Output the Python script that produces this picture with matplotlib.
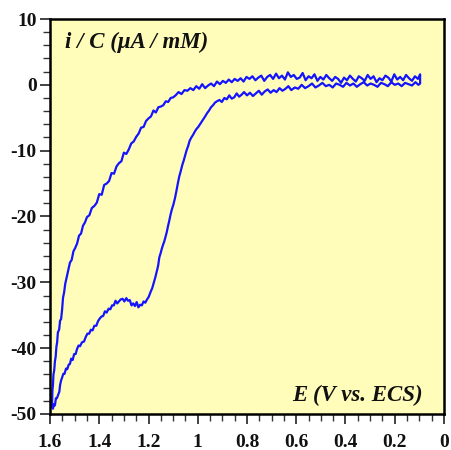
import matplotlib
matplotlib.use("Agg")
import matplotlib.pyplot as plt
from matplotlib.ticker import MultipleLocator, FuncFormatter

# Return branch, from 1.6 V toward 0.1 V (noise included)
E_lower = [1.592, 1.588, 1.584, 1.580, 1.576, 1.572, 1.566, 1.562, 1.559, 1.555,
           1.552, 1.546, 1.541, 1.535, 1.530, 1.524, 1.519, 1.514, 1.508, 1.502,
           1.496, 1.490, 1.484, 1.478, 1.470, 1.462, 1.455, 1.448, 1.441, 1.434,
           1.427, 1.420, 1.412, 1.405, 1.398, 1.391, 1.384, 1.377, 1.370, 1.362,
           1.355, 1.348, 1.341, 1.334, 1.327, 1.320, 1.313, 1.305, 1.298, 1.290,
           1.283, 1.276, 1.269, 1.262, 1.255, 1.248, 1.241, 1.234, 1.227, 1.220,
           1.213, 1.206, 1.199, 1.192, 1.185, 1.178, 1.172, 1.166, 1.161, 1.156,
           1.151, 1.146, 1.141, 1.136, 1.131, 1.126, 1.121, 1.116, 1.111, 1.105,
           1.099, 1.093, 1.087, 1.081, 1.075, 1.069, 1.063, 1.057, 1.051, 1.045,
           1.039, 1.033, 1.026, 1.019, 1.012, 1.005, 0.998, 0.991, 0.984, 0.977,
           0.970, 0.962, 0.954, 0.946, 0.938, 0.930, 0.922, 0.912, 0.902, 0.892,
           0.882, 0.872, 0.862, 0.852, 0.842, 0.832, 0.822, 0.812, 0.800, 0.788,
           0.776, 0.764, 0.752, 0.740, 0.728, 0.716, 0.704, 0.692, 0.680, 0.668,
           0.656, 0.644, 0.632, 0.620, 0.606, 0.592, 0.578, 0.564, 0.550, 0.536,
           0.522, 0.508, 0.494, 0.480, 0.466, 0.452, 0.438, 0.424, 0.410, 0.396,
           0.382, 0.368, 0.354, 0.340, 0.326, 0.312, 0.298, 0.284, 0.270, 0.256,
           0.242, 0.228, 0.214, 0.200, 0.186, 0.172, 0.158, 0.144, 0.130, 0.116,
           0.104, 0.097]
I_lower = [-48.9, -49.2, -48.5, -48.7, -47.6, -47.6, -47.0, -46.6, -45.6, -44.9,
           -44.6, -43.9, -43.9, -43.1, -43.2, -42.5, -42.4, -41.6, -41.8, -40.9,
           -40.9, -40.1, -39.6, -39.7, -39.1, -39.0, -38.3, -37.8, -37.8, -37.2,
           -37.3, -36.6, -36.6, -35.9, -35.5, -35.2, -35.1, -34.4, -34.6, -34.0,
           -34.1, -33.5, -33.5, -32.8, -33.2, -32.9, -32.6, -32.5, -32.9, -32.4,
           -32.8, -32.7, -33.5, -33.2, -33.6, -33.0, -33.8, -33.4, -33.5, -32.9,
           -33.1, -32.6, -32.2, -31.5, -30.9, -30.0, -29.2, -28.3, -27.5, -26.2,
           -25.6, -24.9, -24.3, -23.8, -23.1, -22.4, -21.5, -20.7, -19.8, -18.9,
           -18.2, -17.3, -16.2, -15.0, -13.9, -13.1, -12.2, -11.5, -10.7, -9.9,
           -9.3, -8.5, -8.0, -7.6, -7.1, -6.7, -6.4, -6.0, -5.6, -5.2,
           -4.8, -4.3, -3.9, -3.4, -3.1, -2.7, -2.5, -2.3, -2.6, -2.0,
           -2.2, -1.6, -2.1, -1.9, -1.3, -1.8, -1.5, -1.1, -1.6, -1.2,
           -1.7, -1.3, -0.9, -1.5, -1.0, -0.7, -1.2, -0.8, -1.1, -0.5,
           -0.9, -0.6, -0.2, -0.8, -0.4, -0.6, 0.0, -0.5, -0.2, 0.2,
           -0.4, -0.1, 0.3, -0.2, 0.0, -0.4, 0.2, 0.0, -0.3, 0.3,
           -0.1, 0.2, -0.3, 0.1, 0.4, -0.1, 0.2, 0.0, -0.3, 0.3,
           0.1, -0.2, 0.4, 0.0, 0.2, -0.2, 0.3, 0.1, -0.1, 0.4,
           0.0, 0.2]

# Forward branch, from 0.1 V back to 1.6 V
E_upper = [0.097, 0.106, 0.118, 0.130, 0.142, 0.154, 0.166, 0.178, 0.190, 0.202,
           0.214, 0.226, 0.238, 0.250, 0.262, 0.274, 0.286, 0.298, 0.310, 0.322,
           0.334, 0.346, 0.358, 0.370, 0.382, 0.394, 0.406, 0.418, 0.430, 0.442,
           0.454, 0.466, 0.478, 0.490, 0.502, 0.514, 0.526, 0.538, 0.550, 0.562,
           0.574, 0.586, 0.598, 0.610, 0.622, 0.634, 0.646, 0.658, 0.670, 0.682,
           0.694, 0.706, 0.718, 0.730, 0.742, 0.754, 0.766, 0.778, 0.790, 0.802,
           0.814, 0.826, 0.838, 0.850, 0.862, 0.874, 0.886, 0.898, 0.910, 0.922,
           0.934, 0.946, 0.958, 0.970, 0.982, 0.994, 1.006, 1.018, 1.030, 1.042,
           1.054, 1.066, 1.078, 1.090, 1.100, 1.110, 1.120, 1.130, 1.140, 1.150,
           1.160, 1.170, 1.180, 1.190, 1.200, 1.210, 1.220, 1.230, 1.240, 1.250,
           1.260, 1.270, 1.280, 1.290, 1.300, 1.310, 1.320, 1.330, 1.340, 1.350,
           1.360, 1.370, 1.380, 1.390, 1.400, 1.410, 1.420, 1.430, 1.440, 1.450,
           1.458, 1.466, 1.474, 1.482, 1.490, 1.498, 1.505, 1.512, 1.519, 1.526,
           1.532, 1.538, 1.543, 1.547, 1.551, 1.555, 1.559, 1.563, 1.568, 1.571,
           1.574, 1.577, 1.580, 1.583, 1.586, 1.588, 1.590, 1.591, 1.592]
I_upper = [1.6, 0.9, 1.3, 0.6, 1.0, 1.5, 0.7, 1.2, 0.8, 1.6,
           0.5, 1.1, 1.4, 0.7, 1.0, 0.4, 1.3, 0.9, 1.5, 0.6,
           1.0, 1.3, 0.5, 0.9, 1.4, 0.7, 1.1, 0.3, 0.9, 1.2,
           0.6, 1.0, 1.5, 0.8, 1.2, 0.6, 1.6, 1.0, 1.3, 0.7,
           1.8, 1.1, 0.9, 1.5, 1.2, 1.9, 0.8, 1.4, 1.0, 1.7,
           0.9, 1.5, 1.2, 0.6, 1.4, 1.1, 0.7, 1.3, 0.9, 1.2,
           0.5, 1.0, 0.6, 0.9, 0.4, 0.8, 0.3, 0.6, 0.1, 0.5,
           -0.2, 0.2, -0.1, -0.5, 0.1, -0.6, -0.2, -0.8, -0.5, -0.9,
           -0.8, -1.4, -1.1, -1.6, -1.9, -2.0, -2.6, -2.5, -3.1, -3.3,
           -3.4, -4.2, -3.9, -4.8, -5.1, -5.5, -6.4, -6.5, -7.4, -7.9,
           -8.6, -8.9, -9.8, -10.5, -10.3, -11.6, -11.9, -12.4, -13.5, -13.4,
           -14.6, -15.0, -15.2, -16.7, -16.6, -17.9, -18.4, -18.7, -19.8, -20.1,
           -20.9, -21.4, -22.6, -22.9, -24.1, -24.8, -25.3, -26.6, -27.0, -28.2,
           -29.3, -30.2, -31.6, -32.3, -34.2, -35.6, -35.8, -37.2, -37.6, -39.1,
           -39.8, -41.3, -42.0, -43.4, -44.0, -45.6, -46.4, -47.9, -48.9]

x_ticks = [1.6, 1.4, 1.2, 1.0, 0.8, 0.6, 0.4, 0.2, 0.0]
y_ticks = [10, 0, -10, -20, -30, -40, -50]

E = E_lower + E_upper
I = I_lower + I_upper

fig = plt.figure(figsize=(4.52, 4.50), dpi=100)
ax = fig.add_axes([50/452, 1 - 414/450, 394/452, 395/450])
ax.set_facecolor('#FFFDB9')
ax.plot(E, I, color='#1414FF', lw=1.6, solid_joinstyle='round')

ax.set_xlim(1.6, 0.0)
ax.set_ylim(-50, 10)
ax.set_xticks(x_ticks)
ax.set_yticks(y_ticks)
ax.xaxis.set_minor_locator(MultipleLocator(0.05))
ax.yaxis.set_minor_locator(MultipleLocator(2))

def fmt_x(v, pos):
    s = f"{v:.1f}"
    if s.endswith(".0"):
        s = s[:-2]
    return s
ax.xaxis.set_major_formatter(FuncFormatter(fmt_x))
ax.yaxis.set_major_formatter(FuncFormatter(lambda v, p: f"{int(v)}"))

for s in ax.spines.values():
    s.set_linewidth(1.8)
    s.set_color('black')

ax.tick_params(axis='both', which='major', direction='out', length=7.5, width=1.2, color='#222222')
ax.tick_params(axis='both', which='minor', direction='out', length=5, width=1.0, color='#333333')
ax.tick_params(axis='x', which='major', pad=7)
ax.tick_params(axis='y', which='major', pad=2)

for lab in ax.get_xticklabels() + ax.get_yticklabels():
    lab.set_fontfamily('Liberation Serif')
    lab.set_fontweight('bold')
    lab.set_fontsize(14)
    lab.set_color('#111111')

ax.text((65 - 50)/394, 1 - (42 - 19)/395, 'i / C (μA / mM)', transform=ax.transAxes,
        ha='left', va='center', fontsize=16.5, fontweight='bold', fontstyle='italic',
        family='Liberation Serif', color='#111111')
ax.text((423 - 50)/394, (414 - 395)/395, 'E (V vs. ECS)', transform=ax.transAxes,
        ha='right', va='center', fontsize=16.5, fontweight='bold', fontstyle='italic',
        family='Liberation Serif', color='#111111')

fig.savefig('out.png', dpi=100)
